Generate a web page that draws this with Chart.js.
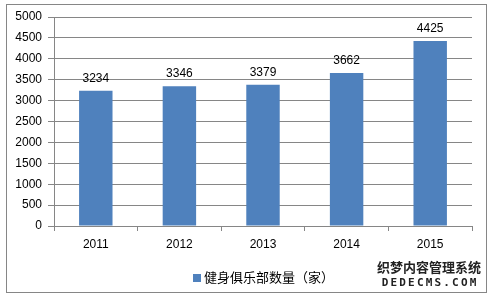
<!DOCTYPE html>
<html>
<head>
<meta charset="utf-8">
<script src="https://cdn.jsdelivr.net/npm/chart.js@4/dist/chart.umd.min.js"></script>
<style>
  html, body { margin: 0; padding: 0; background: #fff; }
  #wrap { position: relative; width: 490px; height: 296px; }
</style>
</head>
<body>
<div id="wrap"><canvas id="chart" width="490" height="296"></canvas></div>
<script>
const years = ["2011", "2012", "2013", "2014", "2015"];
const clubCounts = [3234, 3346, 3379, 3662, 4425];
const seriesName = "健身俱乐部数量（家）";
const yTicks = { min: 0, max: 5000, step: 500 };

const gridColor = "#868686";
const barColor = "#4F81BD";
const font = "'Liberation Sans', Arial, sans-serif";

// outer frame, value labels, legend and watermark
const extras = {
  id: "extras",
  beforeDraw(chart) {
    const ctx = chart.ctx;
    ctx.save();
    ctx.strokeStyle = gridColor;
    ctx.lineWidth = 1;
    ctx.strokeRect(6.5, 4.5, 480, 288);
    ctx.restore();
  },
  afterDatasetsDraw(chart) {
    const ctx = chart.ctx;
    const meta = chart.getDatasetMeta(0);
    ctx.save();
    ctx.fillStyle = "#000";
    ctx.font = "12px " + font;
    ctx.textAlign = "center";
    ctx.textBaseline = "middle";
    meta.data.forEach((bar, i) => {
      ctx.fillText(String(clubCounts[i]), bar.x, bar.y - 12);
    });
    ctx.restore();
  },
  afterDraw(chart) {
    const ctx = chart.ctx;
    ctx.save();
    // legend
    ctx.fillStyle = barColor;
    ctx.fillRect(193, 274, 8, 8);
    ctx.fillStyle = "#000";
    ctx.font = "13px 'Noto Sans CJK SC', sans-serif";
    ctx.textAlign = "left";
    ctx.textBaseline = "middle";
    ctx.fillText(seriesName, 204, 277);

    // watermark
    ctx.textAlign = "center";
    ctx.lineJoin = "round";
    ctx.strokeStyle = "#fff";
    ctx.lineWidth = 3;
    ctx.fillStyle = "#222";
    ctx.font = "bold 13px 'Noto Sans CJK SC', sans-serif";
    ctx.strokeText("织梦内容管理系统", 429, 267);
    ctx.fillText("织梦内容管理系统", 429, 267);
    ctx.font = "bold 11px 'DejaVu Sans Mono', monospace";
    const mark = "DEDECMS.COM";
    for (let i = 0; i < mark.length; i++) {
      const cx = 385 + i * 8.8;
      ctx.strokeText(mark[i], cx, 283);
      ctx.fillText(mark[i], cx, 283);
    }
    ctx.restore();
  }
};

new Chart(document.getElementById("chart"), {
  type: "bar",
  data: {
    labels: years,
    datasets: [{
      label: seriesName,
      data: clubCounts,
      backgroundColor: barColor,
      borderWidth: 0,
      barPercentage: 0.4,
      categoryPercentage: 1.0
    }]
  },
  options: {
    responsive: false,
    animation: false,
    devicePixelRatio: 1,
    layout: { padding: { left: 0, right: 18, top: 17, bottom: 40 } },
    plugins: {
      tooltip: { enabled: false },
      legend: { display: false }
    },
    scales: {
      x: {
        grid: { drawOnChartArea: false, color: gridColor, tickLength: 5 },
        border: { color: gridColor },
        ticks: { color: "#000", padding: 6, font: { family: font, size: 12 } },
        afterFit(scale) { scale.height = 30; }
      },
      y: {
        min: yTicks.min,
        max: yTicks.max,
        grid: { color: gridColor, tickLength: 6 },
        border: { color: gridColor },
        ticks: {
          stepSize: yTicks.step,
          color: "#000",
          padding: 6,
          font: { family: font, size: 12 },
          callback: (v) => String(v)
        },
        afterFit(scale) { scale.width = 54; }
      }
    }
  },
  plugins: [extras]
});
</script>
</body>
</html>
